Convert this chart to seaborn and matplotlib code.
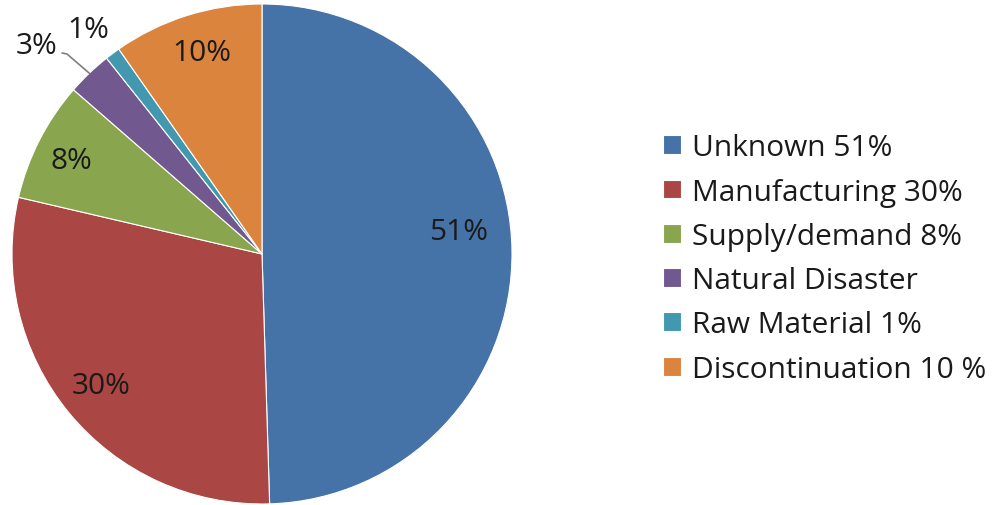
import matplotlib
matplotlib.use('Agg')
import matplotlib.pyplot as plt
import numpy as np
import seaborn as sns

# ── Data ──────────────────────────────────────────────────────────────────────
causes = ['Unknown', 'Manufacturing', 'Supply/demand', 'Natural Disaster',
          'Raw Material', 'Discontinuation']
values = [51, 30, 8, 3, 1, 10]
slice_labels = ['51%', '30%', '8%', '3%', '1%', '10%']
legend_labels = ['Unknown 51%', 'Manufacturing 30%', 'Supply/demand 8%',
                 'Natural Disaster', 'Raw Material 1%', 'Discontinuation 10 %']

# ── Style ─────────────────────────────────────────────────────────────────────
sns.set_theme(style='white')
plt.rcParams['font.family'] = ['Open Sans', 'DejaVu Sans']
colors = sns.color_palette(['#4572A7', '#AA4643', '#89A54E', '#71588F',
                            '#4198AF', '#DB843D'])
# label radius / angular nudge (deg) inside the slice; None -> placed outside
label_r = [0.79, 0.83, 0.85, None, None, 0.84]
label_nudge = [5.6, 0, 1.1, 0, 0, -0.9]
TEXT = '#1a1a1a'
FS = 21.5

fig = plt.figure(figsize=(10.07, 5.06), dpi=100)
ax = fig.add_axes([12 / 1007, 1 / 506, 500 / 1007, 500 / 506])
wedges, _ = ax.pie(values, colors=colors, startangle=90, counterclock=False,
                   wedgeprops=dict(edgecolor='white', linewidth=0.8))
ax.set_aspect('equal')
ax.set_xlim(-1, 1)
ax.set_ylim(-1, 1)

for w, lbl, r, nd in zip(wedges, slice_labels, label_r, label_nudge):
    if r is None:
        continue
    ang = np.deg2rad((w.theta1 + w.theta2) / 2 + nd)
    ax.text(r * np.cos(ang), r * np.sin(ang), lbl, ha='center', va='center',
            fontsize=FS, color=TEXT)

# small slices: labels outside, 3% with a leader line
w3 = wedges[3]
ang3 = np.deg2rad((w3.theta1 + w3.theta2) / 2)
tip = (np.cos(ang3), np.sin(ang3))
ax.text(-0.90, 0.836, slice_labels[3], ha='center', va='center', fontsize=FS,
        color=TEXT)
ax.plot([-0.80, -0.78, tip[0]], [0.804, 0.80, tip[1]], color='#808080',
        linewidth=1.2, clip_on=False)
ax.text(-0.696, 0.896, slice_labels[4], ha='center', va='center', fontsize=FS,
        color=TEXT)

leg = fig.legend(wedges, legend_labels, loc='center left',
                 bbox_to_anchor=(651 / 1007, 1 - 259.5 / 506), frameon=False,
                 fontsize=FS, handlelength=0.6, handleheight=0.6,
                 handletextpad=0.37, labelspacing=0.513, borderaxespad=0)
for t in leg.get_texts():
    t.set_color(TEXT)

plt.savefig('out.png', dpi=100, facecolor='white')
